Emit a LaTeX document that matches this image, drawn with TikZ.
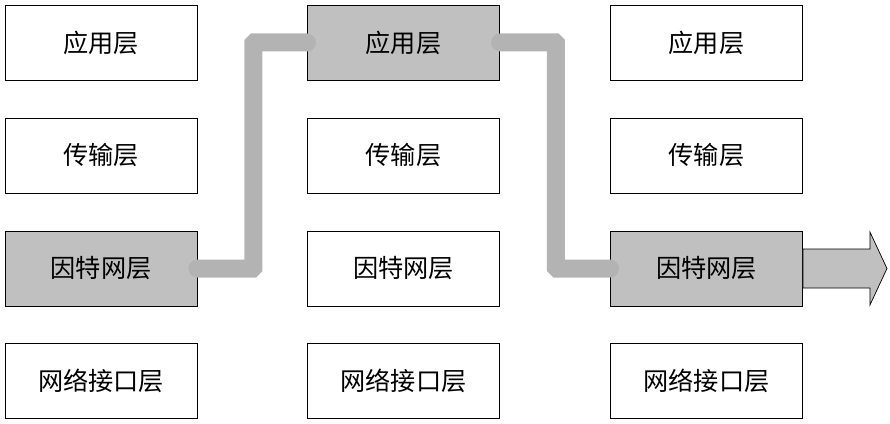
\documentclass[tikz,border=0pt]{standalone}
\usepackage{fontspec}
\newfontfamily\cjk{Noto Sans CJK SC}
\definecolor{boxgray}{HTML}{C0C0C0}
\definecolor{linkgray}{HTML}{B3B3B3}
\tikzset{
  layer/.style={draw,line width=0.8pt,minimum width=5.76cm,minimum height=2.25cm,
    inner sep=0pt,font=\cjk\fontsize{21.5}{26}\selectfont},
  active/.style={layer,fill=boxgray},
  link/.style={linkgray,line width=0.54cm,line cap=round,line join=miter,rounded corners=1pt},
  bigarrow/.style={draw,line width=0.6pt,fill=boxgray}
}
\begin{document}
\begin{tikzpicture}[x=0.03cm,y=-0.03cm]
\useasboundingbox (0,0) rectangle (890,424);

% host on the left
\node[layer]  (app1) at (101,42.5)  {应用层};
\node[layer]  (tr1)  at (101,155.5) {传输层};
\node[active] (ip1)  at (101,268.5) {因特网层};
\node[layer]  (net1) at (101,380.5) {网络接口层};

% middle
\node[active] (app2) at (403.5,42.5)  {应用层};
\node[layer]  (tr2)  at (403.5,155.5) {传输层};
\node[layer]  (ip2)  at (403.5,268.5) {因特网层};
\node[layer]  (net2) at (403.5,380.5) {网络接口层};

% host on the right
\node[layer]  (app3) at (706.5,42.5)  {应用层};
\node[layer]  (tr3)  at (706.5,155.5) {传输层};
\node[active] (ip3)  at (706.5,268.5) {因特网层};
\node[layer]  (net3) at (706.5,380.5) {网络接口层};

\draw[link] (ip1.east) -- ++(56,0) |- (app2.west);
\draw[link] (app2.east) -- ++(56,0) |- (ip3.west);

\draw[bigarrow] (ip3.east) ++(0,-19.5) -- ++(67,0) -- ++(0,-17) -- ++(17,36.5)
  -- ++(-17,36.5) -- ++(0,-17) -- ++(-67,0) -- cycle;
\end{tikzpicture}
\end{document}
